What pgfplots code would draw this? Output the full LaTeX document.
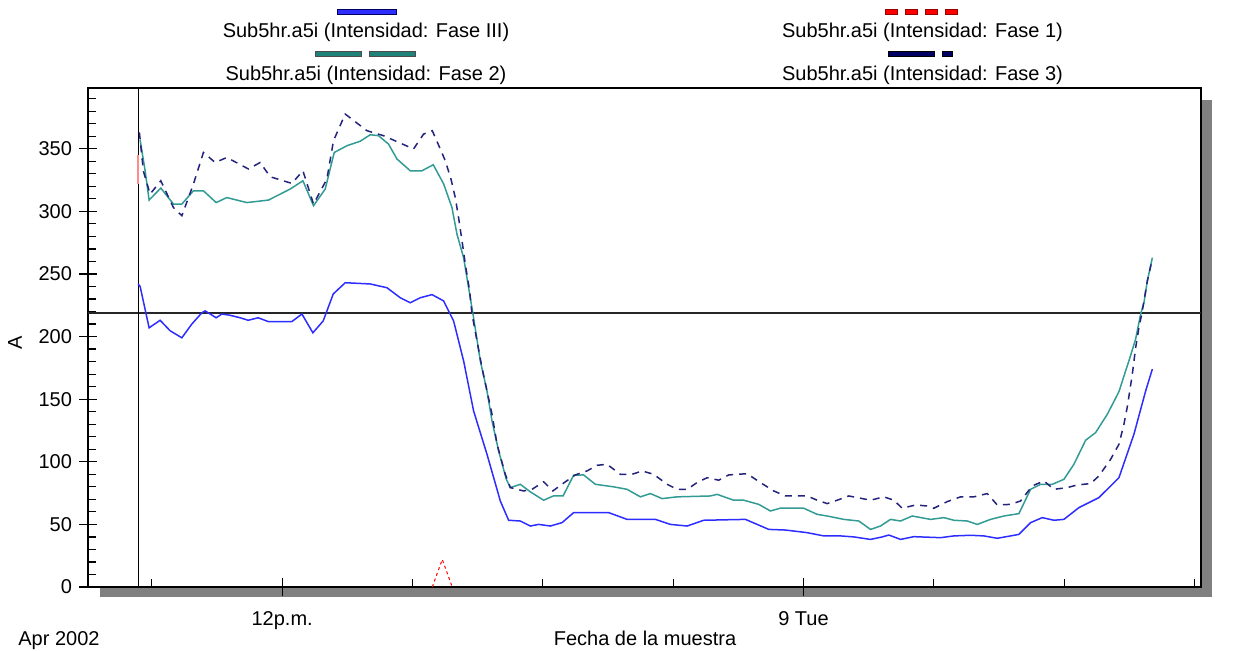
\documentclass[border=0pt]{standalone}
\usepackage{fontspec}
\setmainfont{Liberation Sans}
\usepackage{pgfplots}
\pgfplotsset{compat=1.18}
\definecolor{faseIII}{RGB}{45,45,255}
\definecolor{fasedos}{RGB}{50,155,148}
\definecolor{fasetres}{RGB}{35,35,125}
\definecolor{legnavy}{RGB}{0,0,100}
\definecolor{legteal}{RGB}{30,130,120}
\begin{document}
\begin{tikzpicture}[x=1pt,y=1pt]
\useasboundingbox (0,0) rectangle (618.5,325);
% shadow
\fill[gray] (600.5,26.5) rectangle (606,275);
\fill[gray] (50,26.5) rectangle (606,31.5);
\begin{axis}[
  at={(44pt,31.5pt)}, anchor=south west,
  scale only axis, width=556.5pt, height=249.5pt,
  xmin=7.53, xmax=33.15, ymin=0, ymax=398.5,
  axis line style={line width=0.75pt},
  tick pos=left,
  ytick={0,50,...,350},
  minor ytick={10,20,30,40,60,70,80,90,110,120,130,140,160,170,180,190,210,220,230,240,260,270,280,290,310,320,330,340,360,370,380,390},
  xtick={12,24}, xticklabels={12p.m.,9 Tue},
  minor xtick={9,15,18,21,27,30,33},
  tick align=center, major tick length=9pt, minor tick length=4pt,
  minor x tick style={yshift=2pt}, minor y tick style={xshift=2pt},
  tick style={black, line width=0.6pt},
  ticklabel style={font=\fontsize{10}{12}\selectfont},
  xticklabel style={yshift=-4pt},
  /pgf/number format/assume math mode=true,
]
\addplot[black!85, line width=0.8pt, forget plot] coordinates {(7.53,219) (33.15,219)};
\addplot[black, line width=0.6pt, forget plot] coordinates {(8.684,0) (8.684,398.5)};
% Fase III
\addplot[faseIII, line width=0.75pt] coordinates {
(8.684,242)(8.73,240)(8.937,207)(9.190,213)(9.421,204.6)(9.690,199)(9.920,210)(10.151,219)(10.227,220.5)(10.342,218)(10.480,215)(10.611,218)(10.802,217)(11.033,215)(11.217,213)(11.447,215)(11.678,212)(12.223,212)(12.454,218)(12.707,203)(12.944,212.5)(13.175,234)(13.451,243)(14.027,242)(14.411,239)(14.718,231)(14.948,227)(15.178,231)(15.448,233.5)(15.715,228.5)(15.945,212.5)(16.176,180.6)(16.406,140.6)(16.714,106)(17.021,68.7)(17.212,53.3)(17.481,52.7)(17.712,48.7)(17.903,50)(18.172,48.7)(18.442,51.4)(18.709,59.4)(19.515,59.4)(19.939,54)(20.591,54)(20.936,50)(21.321,48.7)(21.703,53.3)(22.663,54)(22.933,50)(23.200,46)(23.585,45.5)(24.084,43.4)(24.467,40.8)(24.851,40.8)(25.158,40)(25.542,38)(25.812,40)(25.964,41.5)(26.233,38)(26.539,40.2)(27.154,39.4)(27.461,40.8)(27.845,41.3)(28.152,40.8)(28.460,38.9)(28.767,40.8)(28.958,42)(29.227,51.4)(29.497,55.4)(29.764,53.3)(29.994,54)(30.340,63.4)(30.800,71.4)(31.261,87.3)(31.606,122)(31.876,156.6)(32.030,174)
};
% Fase 2
\addplot[fasedos, line width=0.75pt] coordinates {
(8.73,357)(8.845,332.4)(8.937,309)(9.206,318.6)(9.497,305.8)(9.690,305.8)(9.957,316.4)(10.187,316.4)(10.480,307)(10.726,311)(11.187,307)(11.684,309)(12.184,317.8)(12.477,324.4)(12.721,304.5)(12.990,317.8)(13.198,347)(13.490,352.4)(13.796,356)(14.027,361.2)(14.218,360.4)(14.448,353.7)(14.642,341.8)(14.948,332.4)(15.217,332.4)(15.478,337.2)(15.715,322)(15.908,303)(16.023,281.8)(16.176,263)(16.291,239)(16.406,215)(16.560,180.6)(16.714,156.6)(16.830,132.6)(16.982,108.7)(17.159,86)(17.251,79.4)(17.481,82)(17.712,76)(18.018,69.3)(18.241,72.7)(18.465,72.7)(18.709,89.3)(18.939,89.5)(19.209,82)(19.630,80)(19.939,78)(20.245,72)(20.475,74.6)(20.745,70.6)(21.090,72)(21.857,72.7)(22.011,74)(22.394,69.3)(22.624,69.3)(22.970,66)(23.239,60.7)(23.469,63)(24.006,62.9)(24.315,58)(24.545,56.7)(24.928,54)(25.273,52.7)(25.542,46)(25.772,48.7)(26.003,54)(26.233,52.7)(26.503,56.7)(26.924,54)(27.231,55.4)(27.461,53.3)(27.769,52.7)(28.000,50)(28.306,54)(28.612,56.7)(28.958,58.6)(29.227,78)(29.457,82)(29.727,82)(29.994,86)(30.224,98)(30.494,117.2)(30.724,123.3)(30.994,138)(31.261,156)(31.415,172.6)(31.491,180.6)(31.645,198)(31.761,218)(31.837,227.2)(31.915,244.5)(32.030,263)
};
% Fase 3
\addplot[fasetres, line width=0.75pt, dash pattern=on 3.5pt off 3pt] coordinates {
(8.713,363)(8.806,332)(8.960,313.8)(9.206,324.4)(9.497,303)(9.690,296.5)(9.957,321.8)(10.187,347)(10.457,339)(10.726,343)(11.224,333.8)(11.493,339)(11.724,327.6)(12.223,322.3)(12.477,332.4)(12.721,305.8)(13.029,325.8)(13.181,356.4)(13.451,377.7)(13.951,364.4)(14.333,360.4)(15.024,349.8)(15.254,361.7)(15.455,364.4)(15.639,349.8)(15.754,340.4)(15.885,325.8)(15.984,311)(16.060,295)(16.139,276.5)(16.215,257.9)(16.314,236.5)(16.369,218)(16.484,196.6)(16.599,175.2)(16.714,156.6)(16.830,138)(16.945,114)(17.136,90)(17.251,79.4)(17.557,76.7)(17.751,78)(18.018,84)(18.230,76.7)(18.518,84)(18.748,89.5)(19.018,92.7)(19.248,97.2)(19.478,98)(19.784,90)(20.054,90)(20.284,92.7)(20.551,90)(20.860,82)(21.090,78)(21.321,78)(21.551,83.4)(21.781,87.3)(22.048,85.3)(22.279,89.5)(22.702,90.5)(23.009,83.4)(23.315,76.7)(23.585,72.7)(24.084,72.7)(24.315,69.3)(24.545,66.6)(24.775,69.3)(25.042,72.7)(25.312,70.9)(25.542,69.3)(25.849,72)(26.079,69.3)(26.272,62.9)(26.579,65.5)(26.848,64.7)(27.000,62.9)(27.309,68.2)(27.615,72)(27.922,72)(28.230,74.6)(28.460,65.5)(28.767,66)(28.997,68.7)(29.266,80.7)(29.533,84.7)(29.764,78)(30.072,79.4)(30.303,81.5)(30.609,82.6)(30.800,88.7)(31.070,102)(31.261,114)(31.376,130)(31.454,144)(31.569,170)(31.645,191)(31.721,207)(31.799,220.5)(31.915,244.5)(32.030,262)
};
% Fase 1
\addplot[red!45, line width=0.75pt, forget plot] coordinates {(8.684,322)(8.684,345)};
\addplot[red, line width=0.5pt, dash pattern=on 1.5pt off 1.5pt] coordinates {(15.455,0)(15.685,22)(15.915,0)};
\end{axis}
% legend
\def\lf{\fontsize{10}{12}\selectfont}
\filldraw[draw=legnavy, fill=faseIII, line width=0.4pt] (168.5,318) rectangle (198,320.5);
\node[anchor=base, font=\lf] at (183,306.25) {Sub5hr.a5i (Intensidad: Fase III)};
\filldraw[draw=black!70, fill=legteal, line width=0.4pt] (157.5,296.75) rectangle (180.5,299.25);
\filldraw[draw=black!70, fill=legteal, line width=0.4pt] (184.5,296.75) rectangle (207.5,299.25);
\node[anchor=base, font=\lf] at (183,284.75) {Sub5hr.a5i (Intensidad: Fase 2)};
\foreach \a in {442.5,452.5,462.5,472.5}{
  \filldraw[draw=red!60!black, fill=red, line width=0.4pt] (\a,318) rectangle (\a+6,320.5);
}
\node[anchor=base, font=\lf] at (461.25,306.25) {Sub5hr.a5i (Intensidad: Fase 1)};
\filldraw[draw=black, fill=legnavy, line width=0.4pt] (444,296.75) rectangle (467,299.25);
\filldraw[draw=black, fill=legnavy, line width=0.4pt] (471,296.75) rectangle (476,299.25);
\node[anchor=base, font=\lf] at (461.25,284.75) {Sub5hr.a5i (Intensidad: Fase 3)};
% axis texts
\node[anchor=base west, font=\lf, inner sep=0pt] at (9,2.5) {Apr 2002};
\node[anchor=base, font=\lf, inner sep=0pt] at (322.5,2.5) {Fecha de la muestra};
\node[rotate=90, font=\lf, inner sep=0pt] at (7.5,153.5) {A};
\end{tikzpicture}
\end{document}
